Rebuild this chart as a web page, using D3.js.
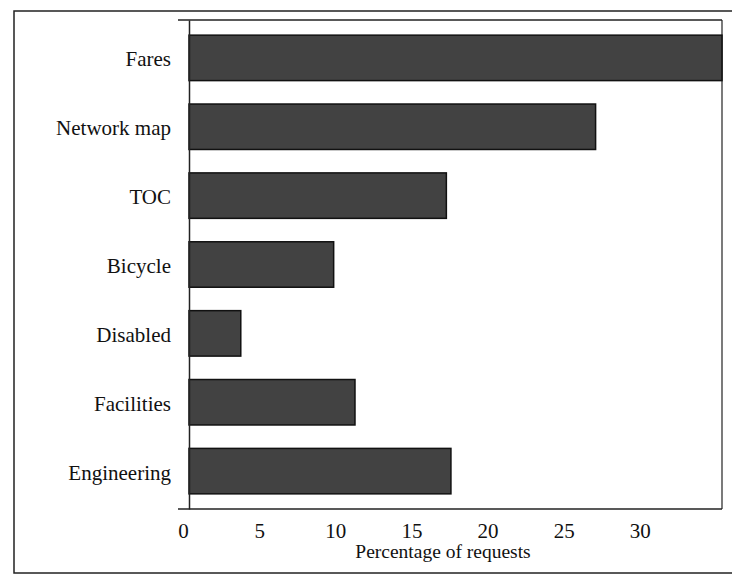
<!DOCTYPE html>
<html>
<head>
<meta charset="utf-8">
<script src="https://cdn.jsdelivr.net/npm/d3@7"></script>
<style>
  html, body { margin: 0; padding: 0; background: #fff; }
  svg { display: block; }
</style>
</head>
<body>
<svg id="chart" width="732" height="576"></svg>
<script>
const categories = ["Fares", "Network map", "TOC", "Bicycle", "Disabled", "Facilities", "Engineering"];
const values = [35, 26.7, 16.9, 9.5, 3.4, 10.9, 17.2];
const tickValues = [0, 5, 10, 15, 20, 25, 30];
const xTitle = "Percentage of requests";

(function () {
const svg = d3.select("#chart");
const pLeft = 189, pRight = 722, pTop = 20, pBottom = 509;
const font = "'Liberation Serif', 'Times New Roman', serif";

// outer frame
svg.append("rect").attr("x", 14).attr("y", 11).attr("width", 740).attr("height", 562)
  .attr("fill", "none").attr("stroke", "#222").attr("stroke-width", 1.5);

const x = d3.scaleLinear().domain([0, 35]).range([pLeft, pRight]);
const y = d3.scaleBand().domain(categories).range([pTop, pBottom]).paddingInner(0.34).paddingOuter(0.22);

// plot frame
svg.append("line").attr("x1", pLeft - 11).attr("x2", pRight).attr("y1", pTop).attr("y2", pTop)
  .attr("stroke", "#222").attr("stroke-width", 1.5);
svg.append("line").attr("x1", pRight).attr("x2", pRight).attr("y1", pTop).attr("y2", pBottom)
  .attr("stroke", "#222").attr("stroke-width", 1.2);

// bars
svg.append("g").selectAll("rect").data(categories).join("rect")
  .attr("x", x(0))
  .attr("y", d => y(d))
  .attr("width", (d, i) => Math.min(x(values[i]), pRight) - x(0))
  .attr("height", y.bandwidth())
  .attr("fill", "#424242")
  .attr("stroke", "#111")
  .attr("stroke-width", 1.5);

// y axis
const yAxis = d3.axisLeft(y).tickSize(0).tickPadding(18);
const gy = svg.append("g").attr("transform", `translate(${pLeft},0)`).call(yAxis);
gy.select(".domain").attr("stroke", "#222").attr("stroke-width", 1.5);
gy.selectAll("text").attr("font-family", font).attr("font-size", 21).attr("fill", "#111")
  .attr("dy", "0.4em");

// x axis
const xAxis = d3.axisBottom(x).tickValues(tickValues).tickSize(0).tickPadding(14);
const gx = svg.append("g").attr("transform", `translate(0,${pBottom})`).call(xAxis);
gx.select(".domain").remove();
gx.append("line").attr("x1", pLeft - 11).attr("x2", pRight).attr("y1", 0).attr("y2", 0)
  .attr("stroke", "#222").attr("stroke-width", 1.5);
gx.selectAll("text").attr("font-family", font).attr("font-size", 21).attr("fill", "#111")
  .attr("dx", -6);

svg.append("text").attr("x", 443).attr("y", 558).attr("text-anchor", "middle")
  .attr("font-family", font).attr("font-size", 19.5).attr("fill", "#111").text(xTitle);
})();
</script>
</body>
</html>
